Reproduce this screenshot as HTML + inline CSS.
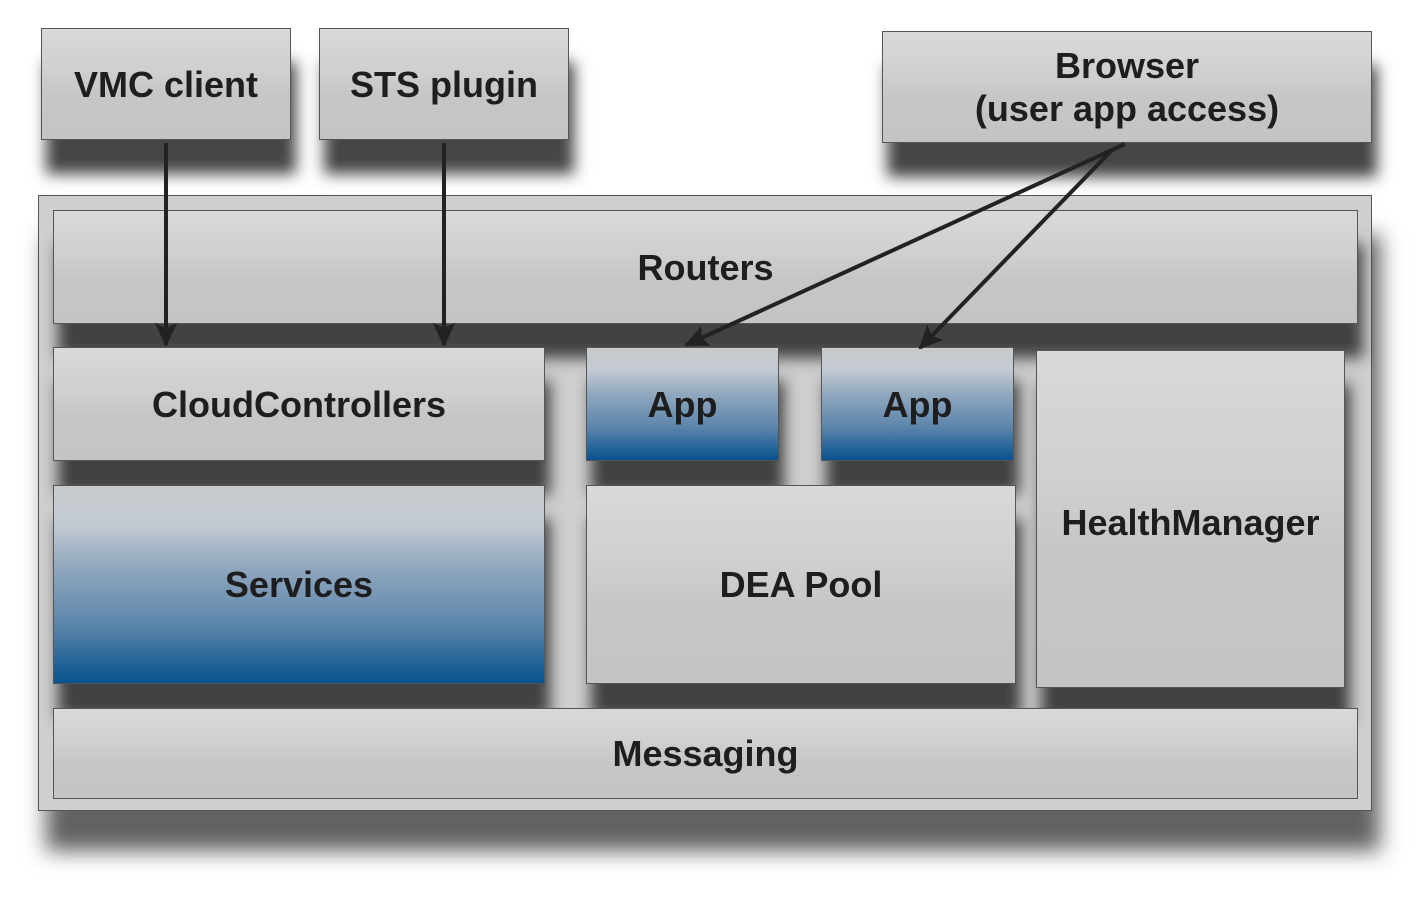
<!DOCTYPE html>
<html><head><style>
body{margin:0;width:1420px;height:909px;background:#fff;position:relative;overflow:hidden;font-family:"Liberation Sans",Arial,sans-serif}
.b{position:absolute;box-sizing:border-box;border:1.5px solid #555;background:linear-gradient(#d9d9d9 0%,#cfcfcf 40%,#c6c6c6 60%,#c4c4c4 100%);box-shadow:5px 34px 14px rgba(50,50,50,.9);display:flex;align-items:center;justify-content:center;text-align:center;font-weight:bold;font-size:36px;color:#1e1e1e;line-height:43px}
.blue{background:linear-gradient(#c8cbcd 0%,#c2cad2 20%,#93a9bf 40%,#5d86ac 70%,#08528f 100%)}
</style></head><body>
<div class="b" style="left:38px;top:195px;width:1334px;height:616px;background:#cfcfcf;box-shadow:8px 40px 20px rgba(70,70,70,.85)"></div>
<div class="b" style="left:41px;top:28px;width:250px;height:112px">VMC client</div>
<div class="b" style="left:319px;top:28px;width:250px;height:112px">STS plugin</div>
<div class="b" style="left:882px;top:31px;width:490px;height:112px">Browser<br>(user app access)</div>
<div class="b" style="left:53px;top:210px;width:1305px;height:114px">Routers</div>
<div class="b" style="left:53px;top:347px;width:492px;height:114px">CloudControllers</div>
<div class="b blue" style="left:586px;top:347px;width:193px;height:114px">App</div>
<div class="b blue" style="left:821px;top:347px;width:193px;height:114px">App</div>
<div class="b" style="left:1036px;top:350px;width:309px;height:338px;align-items:flex-start;padding-top:150px">HealthManager</div>
<div class="b blue" style="left:53px;top:485px;width:492px;height:199px">Services</div>
<div class="b" style="left:586px;top:485px;width:430px;height:199px">DEA Pool</div>
<div class="b" style="left:53px;top:708px;width:1305px;height:91px;box-shadow:none">Messaging</div>
<svg width="1420" height="909" style="position:absolute;left:0;top:0">
<defs><marker id="m" markerWidth="24" markerHeight="22" refX="22" refY="11" orient="auto" markerUnits="userSpaceOnUse"><path d="M0,0 L24,11 L0,22 L5,11 z" fill="#222"/></marker></defs>
<g stroke="#222" stroke-width="4" fill="none">
<line x1="166" y1="143" x2="166" y2="345" marker-end="url(#m)"/>
<line x1="444" y1="143" x2="444" y2="345" marker-end="url(#m)"/>
<line x1="1125" y1="144" x2="686" y2="345" marker-end="url(#m)"/>
<line x1="1112" y1="150" x2="920" y2="348" marker-end="url(#m)"/>
</g></svg>
</body></html>
